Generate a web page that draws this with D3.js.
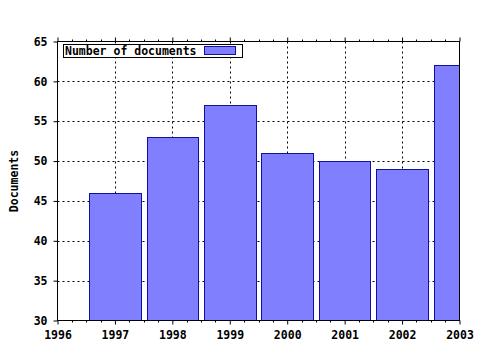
<!DOCTYPE html>
<html><head><meta charset="utf-8">
<script src="https://cdn.jsdelivr.net/npm/d3@7"></script>
<style>body{margin:0;background:#fff}svg{display:block}text{font-family:"DejaVu Sans Mono",monospace;font-weight:bold;font-size:11.5px;fill:#000}</style>
</head><body>
<script>
const years = [1997, 1998, 1999, 2000, 2001, 2002, 2003];
const documents = [46, 53, 57, 51, 50, 49, 62];
const xTicks = [1996, 1997, 1998, 1999, 2000, 2001, 2002, 2003];
const yTicks = [30, 35, 40, 45, 50, 55, 60, 65];
const seriesName = "Number of documents";
const yLabel = "Documents";

(function () {
const W = 480, H = 350;
const L = 57.5, R = 459.5, T = 41.5, B = 320.5;
const svg = d3.select("body").append("svg").attr("width", W).attr("height", H);
const x = d3.scaleLinear().domain([1996, 2003]).range([L, R]);
const y = d3.scaleLinear().domain([30, 65]).range([B, T]);

svg.append("defs").append("clipPath").attr("id", "c")
  .append("rect").attr("x", L).attr("y", T).attr("width", R - L).attr("height", B - T);

// grid
const g = svg.append("g").attr("stroke", "#000").attr("stroke-dasharray", "2,3").attr("stroke-width", 1);
xTicks.slice(1, -1).forEach(v => g.append("line").attr("x1", Math.round(x(v)) + .5).attr("x2", Math.round(x(v)) + .5).attr("y1", T).attr("y2", B));
yTicks.slice(1, -1).forEach(v => g.append("line").attr("y1", Math.round(y(v)) + .5).attr("y2", Math.round(y(v)) + .5).attr("x1", L).attr("x2", R));

// bars
const bw = 0.9;
svg.append("g").attr("clip-path", "url(#c)").selectAll("rect").data(years).join("rect")
  .attr("x", (d) => Math.round(x(d - bw / 2)) + .5)
  .attr("width", d => Math.round(x(d + bw / 2)) - Math.round(x(d - bw / 2)))
  .attr("y", (d, i) => Math.round(y(documents[i])) + .5)
  .attr("height", (d, i) => B - Math.round(y(documents[i])) - .5 + 2)
  .attr("fill", "#8080ff").attr("stroke", "#1010a0").attr("stroke-width", 1);

// border
svg.append("rect").attr("x", L).attr("y", T).attr("width", R - L).attr("height", B - T)
  .attr("fill", "none").attr("stroke", "#000");

// axes ticks
const axB = d3.axisBottom(x).tickValues(xTicks).tickFormat(d3.format("d")).tickSizeInner(4).tickSizeOuter(0).tickPadding(6);
const ax = svg.append("g").attr("transform", `translate(0,${B})`).call(axB);
ax.select(".domain").remove();
const axT = d3.axisTop(x).tickValues(xTicks).tickFormat("").tickSizeInner(4).tickSizeOuter(0);
const at = svg.append("g").attr("transform", `translate(0,${T})`).call(axT);
at.select(".domain").remove();
const minor = d3.range(1996, 2003.01, 0.25).filter(v => Math.abs(v - Math.round(v)) > 0.01);
minor.forEach(v => {
  const xx = Math.round(x(v)) + .5;
  svg.append("line").attr("x1", xx).attr("x2", xx).attr("y1", B).attr("y2", B + 2).attr("stroke", "#000");
  svg.append("line").attr("x1", xx).attr("x2", xx).attr("y1", T).attr("y2", T - 2).attr("stroke", "#000");
});
const axL = d3.axisLeft(y).tickValues(yTicks).tickSizeInner(4).tickSizeOuter(0).tickPadding(6);
const al = svg.append("g").attr("transform", `translate(${L},0)`).call(axL);
al.select(".domain").remove();
svg.selectAll(".tick text").style("font-family", '"DejaVu Sans Mono",monospace').style("font-weight", "bold").style("font-size", "11.5px").attr("fill", "#000");

// y label
svg.append("text").attr("transform", `translate(18,${(T + B) / 2}) rotate(-90)`).attr("text-anchor", "middle").text(yLabel);

// legend
svg.append("rect").attr("x", 63.5).attr("y", 44.5).attr("width", 179).attr("height", 13).attr("fill", "#fff").attr("stroke", "#000");
svg.append("text").attr("x", 65).attr("y", 55).text(seriesName);
svg.append("rect").attr("x", 204.5).attr("y", 46.5).attr("width", 31).attr("height", 8).attr("fill", "#8080ff").attr("stroke", "#1010a0");
})();
</script>
</body></html>
